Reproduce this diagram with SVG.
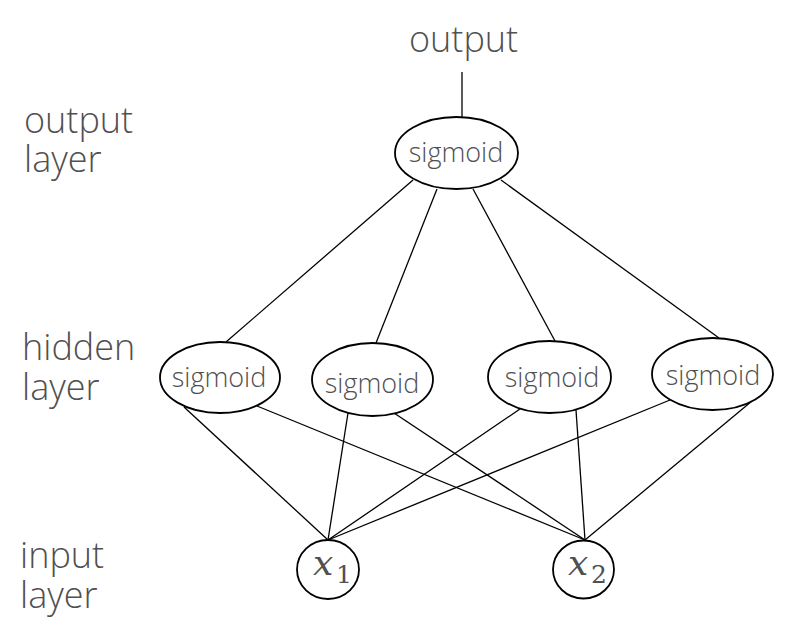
<svg xmlns="http://www.w3.org/2000/svg" width="803" height="639" viewBox="0 0 803 639">
<style>
.node{fill:#fff;stroke:#000;stroke-width:1.8}
.lbl{font-family:"Open Sans","Liberation Sans",sans-serif;font-weight:300;fill:#505050;font-size:36px}
.nt{font-family:"Open Sans","Liberation Sans",sans-serif;font-weight:300;fill:#505050;font-size:27px;text-anchor:middle}
.mx{font-family:"DejaVu Serif","Liberation Serif",serif;font-style:italic;fill:#505050;font-size:36px}
.ms{font-family:"DejaVu Serif","Liberation Serif",serif;fill:#505050;font-size:25px}
.edge{stroke:#000;stroke-width:1.3;fill:none}
</style>
<rect width="803" height="639" fill="#fff"/>
<g id="layer-labels">
<text class="lbl" x="24" y="133"><tspan x="24" y="133">output</tspan><tspan x="24" y="172">layer</tspan></text>
<text class="lbl" x="22" y="360"><tspan x="22" y="360">hidden</tspan><tspan x="22" y="400">layer</tspan></text>
<text class="lbl" x="20" y="568"><tspan x="20" y="568">input</tspan><tspan x="20" y="608">layer</tspan></text>
<text class="lbl" x="409" y="52">output</text>
</g>
<g id="connectors">
<line class="edge" x1="462" y1="72" x2="462" y2="117"/>
<line class="edge" x1="413" y1="180" x2="226" y2="342"/>
<line class="edge" x1="437" y1="189" x2="376" y2="343"/>
<line class="edge" x1="473" y1="189" x2="555" y2="341"/>
<line class="edge" x1="501" y1="180" x2="719" y2="338"/>
<line class="edge" x1="184" y1="407" x2="328" y2="540"/>
<line class="edge" x1="257" y1="406" x2="585" y2="540"/>
<line class="edge" x1="348" y1="413" x2="328" y2="540"/>
<line class="edge" x1="394" y1="413" x2="585" y2="540"/>
<line class="edge" x1="520" y1="409" x2="328" y2="540"/>
<line class="edge" x1="576" y1="410" x2="585" y2="540"/>
<line class="edge" x1="670" y1="400" x2="328" y2="540"/>
<line class="edge" x1="752" y1="401" x2="585" y2="540"/>
</g>
<g id="out">
<ellipse class="node" cx="456.5" cy="153" rx="61.5" ry="36"/>
<text class="nt" x="456" y="162">sigmoid</text>
</g>
<g id="h1">
<ellipse class="node" cx="220" cy="377.5" rx="60" ry="35.5"/>
<text class="nt" x="219" y="387">sigmoid</text>
</g>
<g id="h2">
<ellipse class="node" cx="372.5" cy="379.5" rx="60.5" ry="36.5"/>
<text class="nt" x="372" y="393">sigmoid</text>
</g>
<g id="h3">
<ellipse class="node" cx="549.5" cy="377" rx="61.5" ry="36"/>
<text class="nt" x="552" y="387">sigmoid</text>
</g>
<g id="h4">
<ellipse class="node" cx="712.5" cy="374" rx="60.5" ry="36"/>
<text class="nt" x="713" y="385">sigmoid</text>
</g>
<g id="x1">
<ellipse class="node" cx="328" cy="569.5" rx="31" ry="29.5"/>
<text x="313" y="575"><tspan class="mx">x</tspan><tspan class="ms" x="336" y="583">1</tspan></text>
</g>
<g id="x2">
<ellipse class="node" cx="583.5" cy="569.5" rx="30.5" ry="29"/>
<text x="568" y="575"><tspan class="mx">x</tspan><tspan class="ms" x="591" y="583">2</tspan></text>
</g>
</svg>
